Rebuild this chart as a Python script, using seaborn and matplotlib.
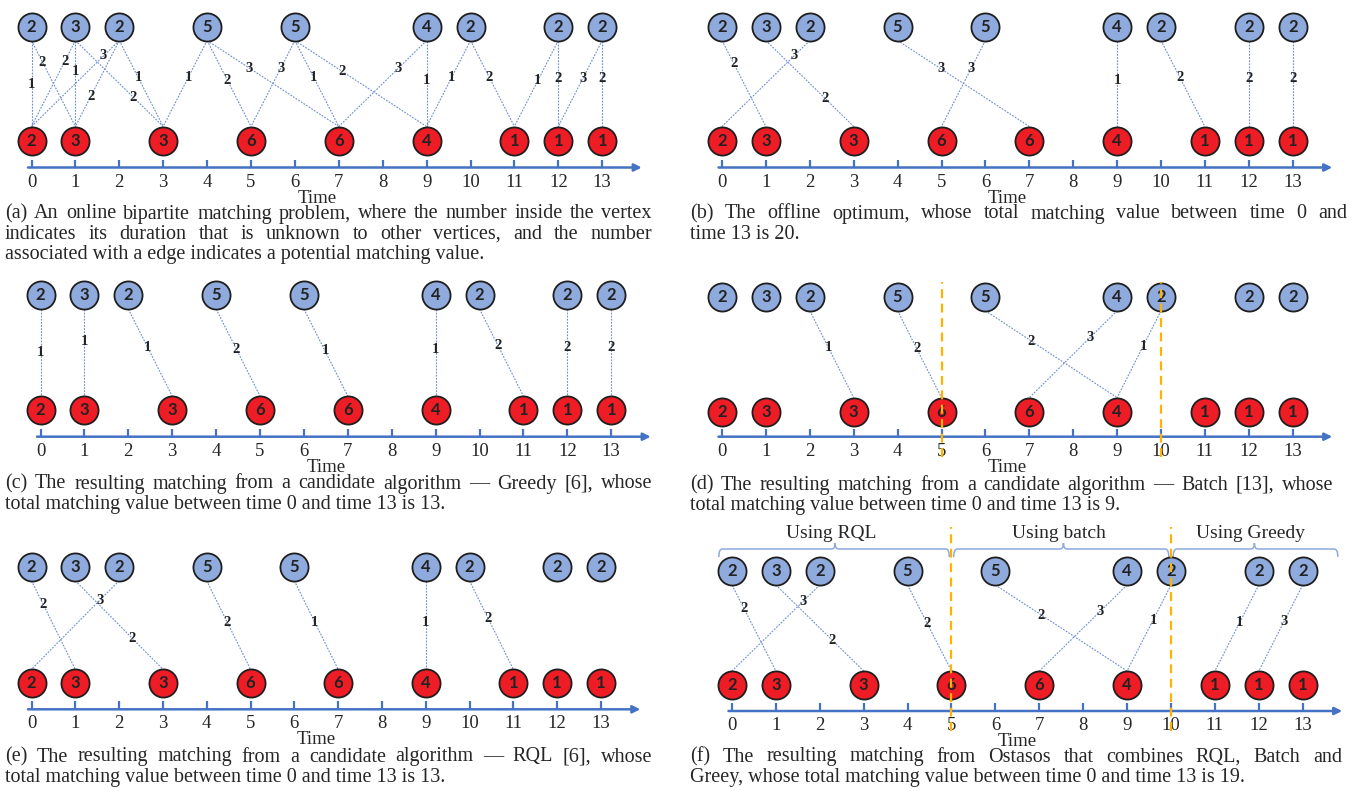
import matplotlib
matplotlib.use("Agg")
import matplotlib.pyplot as plt
import seaborn as sns
from matplotlib.path import Path
from matplotlib.patches import PathPatch

W, H = 1357, 791

blue_times = [0, 1, 2, 4, 6, 9, 10, 12, 13]
blue_durations = [2, 3, 2, 5, 5, 4, 2, 2, 2]
red_times = [0, 1, 3, 5, 7, 9, 11, 12, 13]
red_durations = [2, 3, 3, 6, 6, 4, 1, 1, 1]
time_ticks = list(range(14))

# edges: (blue vertex time, red vertex time, matching value)
edges_problem = [(0, 0, 1), (0, 1, 2), (1, 0, 2), (1, 1, 1), (1, 3, 2), (2, 0, 3), (2, 1, 2),
                 (2, 3, 1), (4, 3, 1), (4, 5, 2), (4, 7, 3), (6, 5, 3), (6, 7, 1), (6, 9, 2),
                 (9, 7, 3), (9, 9, 1), (10, 9, 1), (10, 11, 2), (12, 11, 1), (12, 12, 2),
                 (13, 12, 3), (13, 13, 2)]
edges_offline = [(0, 1, 2), (1, 3, 2), (2, 0, 3), (4, 7, 3), (6, 5, 3), (9, 9, 1),
                 (10, 11, 2), (12, 12, 2), (13, 13, 2)]
edges_greedy = [(0, 0, 1), (1, 1, 1), (2, 3, 1), (4, 5, 2), (6, 7, 1), (9, 9, 1),
                (10, 11, 2), (12, 12, 2), (13, 13, 2)]
edges_batch = [(2, 3, 1), (4, 5, 2), (6, 9, 2), (9, 7, 3), (10, 9, 1)]
edges_rql = [(0, 1, 2), (1, 3, 2), (2, 0, 3), (4, 5, 2), (6, 7, 1), (9, 9, 1), (10, 11, 2)]
edges_ostasos = [(0, 1, 2), (1, 3, 2), (2, 0, 3), (4, 5, 2), (6, 9, 2), (9, 7, 3),
                 (10, 9, 1), (12, 11, 1), (13, 12, 3)]

# where the value sits along each edge (0 = blue end, 1 = red end)
frac_problem = [.51, .25, .24, .36, .66, .18, .65, .43, .43, .46, .32, .32, .43, .36,
                .32, .47, .43, .43, .47, .44, .44, .44]
frac_offline = [.27, .67, .18, .33, .33, .47, .43, .44, .44]
frac_greedy = [.50, .37, .44, .46, .48, .46, .42, .44, .44]
frac_batch = [.42, .44, .35, .31, .41]
frac_rql = [.27, .65, .22, .47, .47, .47, .43]
frac_ostasos = [.27, .64, .19, .45, .35, .31, .41, .44, .43]

switch_times = [5, 10]
phase_names = ["Using RQL", "Using batch", "Using Greedy"]

captions = {
    "a": ["(a) An online bipartite matching problem, where the number inside the vertex",
          "indicates its duration that is unknown to other vertices, and the number",
          "associated with a edge indicates a potential matching value."],
    "b": ["(b) The offline optimum, whose total matching value between time 0 and",
          "time 13 is 20."],
    "c": ["(c) The resulting matching from a candidate algorithm \u2014 Greedy [6], whose",
          "total matching value between time 0 and time 13 is 13."],
    "d": ["(d) The resulting matching from a candidate algorithm \u2014 Batch [13], whose",
          "total matching value between time 0 and time 13 is 9."],
    "e": ["(e) The resulting matching from a candidate algorithm \u2014 RQL [6], whose",
          "total matching value between time 0 and time 13 is 13."],
    "f": ["(f) The resulting matching from Ostasos that combines RQL, Batch and",
          "Greey, whose total matching value between time 0 and time 13 is 19."],
}

# panel pixel layout: x of time 0, px per time unit, y of blue row, y of red row, y of axis
layouts = {
    "a": (31.5, 43.9, 26.5, 140.5, 167.5),
    "b": (722, 43.9, 26.5, 140.5, 167.5),
    "c": (40.5, 43.9, 295, 410, 436.7),
    "d": (722, 43.9, 296.7, 411.7, 436.7),
    "e": (31.5, 43.8, 566.7, 683.3, 709.3),
    "f": (732, 43.9, 571, 685, 711),
}
caption_boxes = {  # left, right, y of first line
    "a": (5, 652, 214), "b": (690, 1347, 214),
    "c": (5, 652, 484), "d": (690, 1333, 485),
    "e": (5, 652, 757), "f": (690, 1342, 757),
}

BLUE = "#8FAADC"
RED = "#EE1C25"
AXIS = "#4472C4"
EDGE = "#6F8FD0"
ORANGE = "#FFB300"
SERIF = ["Liberation Serif", "DejaVu Serif"]
NODE_FONT = ["Lato", "DejaVu Sans"]
CAP_SIZE = 14.5
TICK_SIZE = 13.5

sns.set_theme(style="white")
plt.rcParams["font.family"] = SERIF

fig = plt.figure(figsize=(W / 100, H / 100), dpi=100)
fig.patch.set_facecolor("white")


def make_axes(layout):
    ox, u, yb, yr, ya = layout
    sy = yr - yb
    ax = fig.add_axes([0, 0, 1, 1])
    ax.set_xlim(-ox / u, (W - ox) / u)
    ax.set_ylim((yr - H) / sy, yr / sy)
    ax.axis("off")
    ax.patch.set_alpha(0)
    return ax, sy, (yr - ya) / sy


def draw_panel(key, edges, fracs):
    ax, sy, y_axis = make_axes(layouts[key])
    r = 14 / sy

    for (tb, tr, val), f in zip(edges, fracs):
        y0, y1 = 1 - r, r
        ax.plot([tb, tr], [y0, y1], color=EDGE, lw=0.8, ls=(0, (1.6, 1.2)), zorder=1)
        ax.text(tb + f * (tr - tb), y0 + f * (y1 - y0), str(val), ha="center", va="center",
                fontsize=10.5, fontweight="bold", color="#222222", zorder=2)

    sns.scatterplot(x=blue_times, y=[1] * len(blue_times), s=410, color=BLUE,
                    edgecolor="#1e1e1e", linewidth=1.3, ax=ax, zorder=3, legend=False)
    sns.scatterplot(x=red_times, y=[0] * len(red_times), s=410, color=RED,
                    edgecolor="#1e1e1e", linewidth=1.3, ax=ax, zorder=3, legend=False)
    for t, d in zip(blue_times, blue_durations):
        ax.text(t, 1, str(d), ha="center", va="center", fontsize=12, fontweight="bold",
                family=NODE_FONT, color="#222222", zorder=4)
    for t, d in zip(red_times, red_durations):
        ax.text(t, 0, str(d), ha="center", va="center", fontsize=12, fontweight="bold",
                family=NODE_FONT, color="#222222", zorder=4)

    # time axis
    ax.annotate("", xy=(13.9, y_axis), xytext=(-0.08, y_axis),
                arrowprops=dict(arrowstyle="-|>", color=AXIS, lw=1.8, mutation_scale=11,
                                shrinkA=0, shrinkB=0))
    ax.vlines(time_ticks, y_axis, y_axis + 8 / sy, color=AXIS, lw=1.6)
    for t in time_ticks:
        ax.text(t, y_axis - 14.5 / sy, str(t), ha="center", va="center", fontsize=TICK_SIZE)
    ax.text(6.5, y_axis - 30.5 / sy, "Time", ha="center", va="center", fontsize=TICK_SIZE)
    return ax, sy, y_axis


def brace(ax, x0, x1, xm, y, sy):
    hook, peak = 8 / sy, 6 / sy
    d = 0.08
    verts = [(x0, y - hook), (x0, y), (x0 + d, y), (xm - d, y), (xm, y), (xm, y + peak),
             (xm, y), (xm + d, y), (x1 - d, y), (x1, y), (x1, y - hook)]
    codes = [Path.MOVETO, Path.CURVE3, Path.CURVE3, Path.LINETO, Path.CURVE3, Path.CURVE3,
             Path.CURVE3, Path.CURVE3, Path.LINETO, Path.CURVE3, Path.CURVE3]
    ax.add_patch(PathPatch(Path(verts, codes), fill=False, ec="#8FAADC", lw=1.1))


def caption(key):
    left, right, y = caption_boxes[key]
    renderer = fig.canvas.get_renderer()
    lines = captions[key]
    for i, line in enumerate(lines):
        yy = 1 - (y + i * 20.5) / H
        if i == len(lines) - 1:
            fig.text(left / W, yy, line, ha="left", va="center", fontsize=CAP_SIZE)
            continue
        words = line.split(" ")
        widths = []
        for w in words:
            t = fig.text(0, 0, w, fontsize=CAP_SIZE)
            widths.append(t.get_window_extent(renderer).width)
            t.remove()
        gap = (right - left - sum(widths)) / (len(words) - 1)
        x = left
        for w, wd in zip(words, widths):
            fig.text(x / W, yy, w, ha="left", va="center", fontsize=CAP_SIZE)
            x += wd + gap


draw_panel("a", edges_problem, frac_problem)
draw_panel("b", edges_offline, frac_offline)
draw_panel("c", edges_greedy, frac_greedy)
ax_d, sy_d, ya_d = draw_panel("d", edges_batch, frac_batch)
draw_panel("e", edges_rql, frac_rql)
ax_f, sy_f, ya_f = draw_panel("f", edges_ostasos, frac_ostasos)

# switching points between algorithms
ax_d.vlines(switch_times, ya_d - 20 / sy_d, 1 + 14.5 / sy_d, colors=ORANGE, lw=1.6,
            linestyles=(0, (4, 2.5)), zorder=5)
ax_f.vlines(switch_times, ya_f - 20 / sy_f, 1 + 44 / sy_f, colors=ORANGE, lw=1.6,
            linestyles=(0, (4, 2.5)), zorder=5)

bounds = [-0.3, 5, 10, 13.8]
peaks = [2.35, 7.55, 11.9]
y_br = 1 + 22 / sy_f
for i, name in enumerate(phase_names):
    x0 = bounds[i] + (0.05 if i > 0 else 0)
    x1 = bounds[i + 1] - (0.05 if i < 2 else 0)
    brace(ax_f, x0, x1, peaks[i], y_br, sy_f)
    ax_f.text(peaks[i] - 0.1, y_br + 15.5 / sy_f, name, ha="center", va="center",
              fontsize=14)

for k in captions:
    caption(k)

fig.savefig("out.png", dpi=100, facecolor="white")
